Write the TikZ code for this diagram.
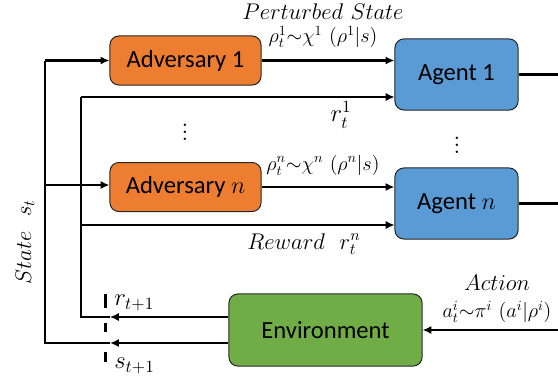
\documentclass[tikz,border=0pt]{standalone}
\usepackage{fontspec}
\newfontfamily\boxfont{Carlito}
\usetikzlibrary{arrows.meta}
\definecolor{advorange}{HTML}{ED7D31}
\definecolor{agentblue}{HTML}{5B9BD5}
\definecolor{envgreen}{HTML}{70AD47}
\tikzset{
  box/.style={draw=black!85, line width=0.025cm, rounded corners=0.22cm, inner sep=0pt,
    font=\boxfont\fontsize{17.5}{20}\selectfont},
  advbox/.style={box, fill=advorange, minimum width=3.775cm, minimum height=1.225cm},
  agentbox/.style={box, fill=agentblue, minimum width=3.075cm, minimum height=1.775cm},
  envbox/.style={box, fill=envgreen, minimum width=4.825cm, minimum height=1.8cm},
  strong/.style={line width=0.055cm},
  weak/.style={line width=0.03cm},
  tip/.style={-{Latex[length=0.22cm,width=0.2cm]}},
  lbl/.style={font=\fontsize{14.4}{17}\selectfont, inner sep=0pt},
  biglbl/.style={lbl, scale=1.12, transform shape},
  hugelbl/.style={lbl, scale=1.22, transform shape}
}
\begin{document}
\begin{tikzpicture}[x=0.025cm, y=-0.025cm]
  \useasboundingbox (0,0) rectangle (558,383);

  % Drawing boxes
  \node [advbox] (adv1) at (185.5,60.5) {Adversary 1};
  \node [advbox] (advn) at (185.5,187) {Adversary $n$};
  \node [agentbox] (ag1) at (456.5,74.5) {Agent 1};
  \node [agentbox] (agn) at (456.5,203.5) {Agent $n$};
  \node [envbox] (env) at (325.5,330) {Environment};

  % Drawing state line
  \coordinate (sTop) at (45,60.5);
  \coordinate (sMid) at (45,185);
  \coordinate (sBot) at (45,343);
  \coordinate (sTip) at (110,343);
  \draw [strong] (sTip) -- (sBot) -- (sTop);
  \draw [strong, tip] (sTop) -- (adv1.west);
  \draw [strong, tip] (sMid) -- (advn.west |- sMid);
  \draw [strong, tip] (env.west |- sBot) -- (sTip);

  % Drawing reward line
  \coordinate (rTop) at (81,97);
  \coordinate (rMid) at (81,225);
  \coordinate (rBot) at (81,317);
  \coordinate (rTip) at (110,317);
  \draw [weak] (rTip) -- (rBot) -- (rTop);
  \draw [weak, tip] (rTop) -- (ag1.west |- rTop);
  \draw [weak, tip] (rMid) -- (agn.west |- rMid);
  \draw [weak, tip] (env.west |- rBot) -- (rTip);

  % Drawing perturbed states
  \draw [strong, tip] (adv1.east) -- (ag1.west |- adv1.east);
  \draw [strong, tip] (advn.east) -- (agn.west |- advn.east);

  % Drawing actions
  \coordinate (a1End) at (558,74.5);
  \coordinate (anEnd) at (558,203.5);
  \coordinate (actIn) at (558,330);
  \draw [strong] (ag1.east) -- (a1End);
  \draw [strong] (agn.east) -- (anEnd);
  \draw [strong, tip] (actIn) -- (env.east);

  % Drawing switch
  \coordinate (swTop) at (105,294);
  \coordinate (swBot) at (105,362);
  \draw [line width=0.075cm, dash pattern=on 0.35cm off 0.375cm on 0.225cm off 0.5cm on 0.25cm] (swTop) -- (swBot);

  % Marking labels
  \node [biglbl] (pert) at (323,12) {$Perturbed\ State$};
  \node [lbl] (rho1) at (323,37) {$\rho_t^1{\sim}\chi^1\ (\rho^1|s)$};
  \node [hugelbl] (r1) at (341,115) {$r_t^1$};
  \node [lbl] (rhon) at (323,165) {$\rho_t^n{\sim}\chi^n\ (\rho^n|s)$};
  \node [biglbl] (rew) at (304,244) {$Reward\ \ r_t^n$};
  \node [biglbl] (act) at (497,283) {$Action$};
  \node [lbl] (pol) at (497,312) {$a_t^i{\sim}\pi^i\ (a^i|\rho^i)$};
  \node [hugelbl, anchor=west] (rNext) at (114,303) {$r_{t+1}$};
  \node [hugelbl, anchor=west] (sNext) at (114,366) {$s_{t+1}$};
  \node [biglbl, rotate=90] (state) at (25,242) {$State\ \ s_t$};
  \node [hugelbl] (dots1) at (185,127) {$\vdots$};
  \node [hugelbl] (dots2) at (457,140) {$\vdots$};
\end{tikzpicture}
\end{document}
